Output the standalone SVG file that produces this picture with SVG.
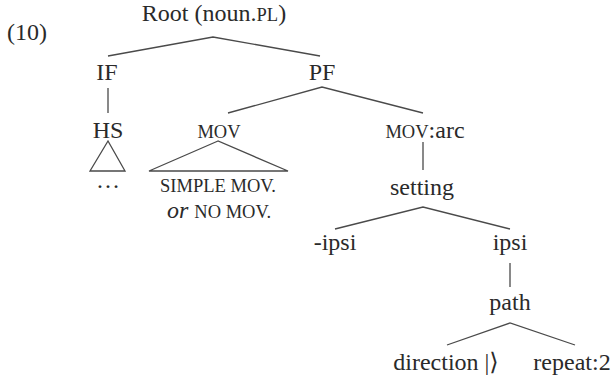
<svg xmlns="http://www.w3.org/2000/svg" width="614" height="378" viewBox="0 0 614 378">
  <style>
    text { font-family: "Liberation Serif", "DejaVu Serif", serif; font-size: 24px; fill: #2a2a2a; text-anchor: middle; }
    .sc { font-size: 18.5px; }
    .it { font-style: italic; }
    .edge { stroke: #4a4a4a; stroke-width: 1.3; fill: none; }
  </style>
  <rect width="614" height="378" fill="#ffffff"/>

  <text x="7" y="40" style="text-anchor:start">(10)</text>

  <g id="connectors">
    <polyline class="edge" points="108,56 213,37 320,56"/>
    <line class="edge" x1="108" y1="88" x2="108" y2="113"/>
    <polygon class="edge" points="108,141 90,171 125,171"/>
    <polyline class="edge" points="228,113 322,87 423,113"/>
    <polygon class="edge" points="218,141 149,171 288,171"/>
    <line class="edge" x1="423" y1="142" x2="423" y2="170"/>
    <polyline class="edge" points="335,229 423,207 510,229"/>
    <line class="edge" x1="510" y1="263" x2="510" y2="287"/>
    <polyline class="edge" points="447,345 510,323 575,345"/>
  </g>

  <g id="root"><text x="214" y="21">Root (noun.<tspan class="sc">PL</tspan>)</text></g>
  <g id="if"><text x="107" y="80">IF</text></g>
  <g id="pf"><text x="322" y="80">PF</text></g>
  <g id="hs"><text x="108" y="138">HS</text><text x="108" y="188">…</text></g>
  <g id="mov"><text class="sc" x="219" y="138">MOV</text></g>
  <g id="mov-content">
    <text class="sc" x="218" y="192">SIMPLE MOV.</text>
    <text x="219" y="218"><tspan class="it">or</tspan> <tspan class="sc">NO MOV.</tspan></text>
  </g>
  <g id="mov-arc"><text x="425" y="138"><tspan class="sc">MOV</tspan>:arc</text></g>
  <g id="setting"><text x="422" y="195">setting</text></g>
  <g id="neg-ipsi"><text x="335" y="250">-ipsi</text></g>
  <g id="ipsi"><text x="510" y="250">ipsi</text></g>
  <g id="path"><text x="510" y="310">path</text></g>
  <g id="direction"><text x="446" y="370">direction |⟩</text></g>
  <g id="repeat"><text x="572" y="370">repeat:2</text></g>
</svg>
